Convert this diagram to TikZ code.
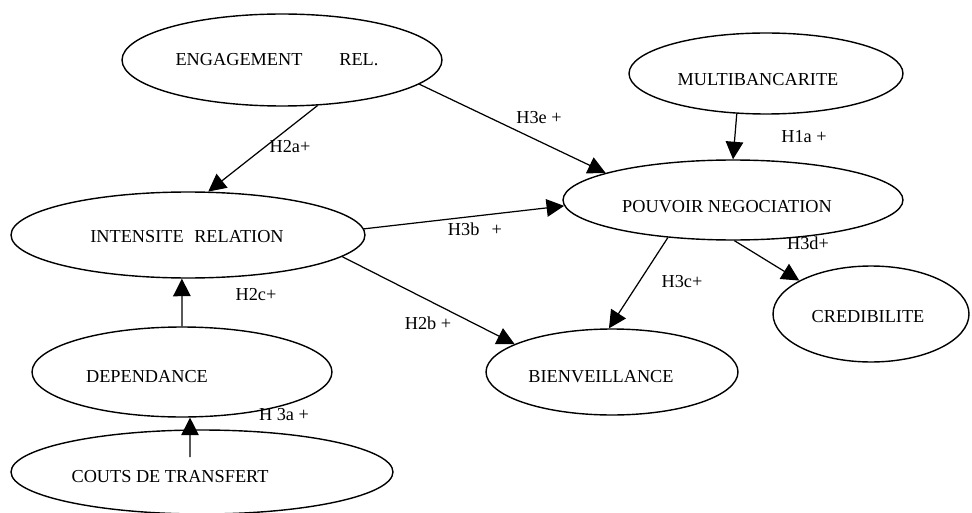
\documentclass[tikz,border=0pt]{standalone}
\usepackage{fontspec}
\setmainfont{Liberation Serif}
\usetikzlibrary{shapes.geometric,arrows.meta}
\tikzset{
  var/.style={ellipse, draw=black, line width=0.8pt, inner sep=0pt},
  txt/.style={font=\fontsize{10.4}{12}\selectfont, inner sep=0pt},
  hyp/.style={font=\fontsize{10.4}{12}\selectfont, inner sep=0pt},
  line/.style={draw, line width=0.7pt, -{Triangle[length=10pt,width=10pt]}},
}
\begin{document}
\begin{tikzpicture}[x=0.02cm,y=-0.02cm]
    \useasboundingbox (0,0) rectangle (972,513);

    \node[var,minimum width=6.4cm,minimum height=1.84cm] (eng) at (282,60) {};
    \node[var,minimum width=5.48cm,minimum height=1.62cm] (multi) at (766,73.5) {};
    \node[var,minimum width=6.8cm,minimum height=1.6cm] (pouv) at (733,200) {};
    \node[var,minimum width=7.08cm,minimum height=1.72cm] (inten) at (188,235) {};
    \node[var,minimum width=3.92cm,minimum height=1.92cm] (cred) at (871,314) {};
    \node[var,minimum width=5.04cm,minimum height=1.72cm] (bien) at (612,372) {};
    \node[var,minimum width=6cm,minimum height=1.8cm] (dep) at (182,372) {};
    \node[var,minimum width=7.64cm,minimum height=1.68cm] (couts) at (202,472) {};

    \node[txt] (engt) at (277,60) {ENGAGEMENT\hspace{21pt}REL.};
    \node[txt] (multit) at (758,80) {MULTIBANCARITE};
    \node[txt] (pouvt) at (727,207) {POUVOIR NEGOCIATION};
    \node[txt] (intent) at (187,237) {INTENSITE\hspace{6pt}RELATION};
    \node[txt] (credt) at (868,317) {CREDIBILITE};
    \node[txt] (bient) at (601,377) {BIENVEILLANCE};
    \node[txt] (dept) at (147,377) {DEPENDANCE};
    \node[txt] (coutst) at (170,477) {COUTS DE TRANSFERT};

    \node[hyp] (h2a) at (290,147) {H2a+};
    \node[hyp] (h3e) at (539,118) {H3e +};
    \node[hyp] (h1a) at (804,137) {H1a +};
    \node[hyp] (h3b) at (475,229) {H3b\hspace{7pt}+};
    \node[hyp] (h2b) at (428,323) {H2b +};
    \node[hyp] (h2c) at (256,295) {H2c+};
    \node[hyp] (h3a) at (284,415) {H 3a +};
    \node[hyp] (h3c) at (682,282) {H3c+};
    \node[hyp] (h3d) at (808,243) {H3d+};

    \coordinate (cst) at (190,457);

    \begin{scope}[every path/.style=line]
      \path (eng.-52) -- (inten.65);
      \path (eng.-10) -- (pouv.168.6);
      \path (multi.234.7) -- (pouv.90);
      \path (inten.2) -- (pouv.182);
      \path (inten.-8.9) -- (bien.164.6);
      \path (dep.90) -- (inten.-98);
      \path (cst) -- (dep.-80);
      \path (pouv.210) -- (bien.94);
      \path (pouv.-88) -- (cred.155.6);
    \end{scope}

\end{tikzpicture}
\end{document}
